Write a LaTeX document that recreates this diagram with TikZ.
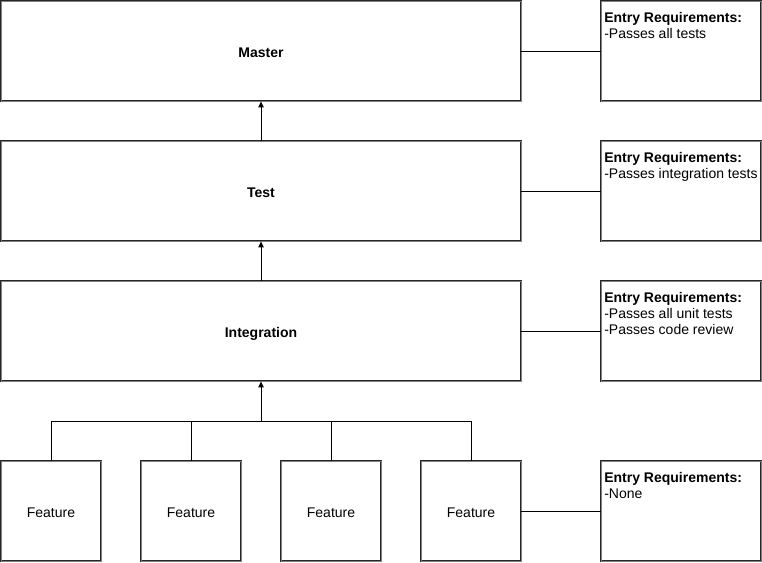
\documentclass[tikz,border=0pt]{standalone}
\usepackage{fontspec}
\setmainfont{Liberation Sans}
\usetikzlibrary{arrows.meta}
\begin{document}
\begin{tikzpicture}[x=0.75pt,y=-0.75pt,
  box/.style={draw=black!85,double=black!50,double distance=0.7pt,line width=0.55pt,fill=white,inner sep=0,text height=10pt,text depth=0pt,font=\fontsize{10.5pt}{12pt}\selectfont},
  lvl/.style={box,minimum width=390pt,minimum height=75pt,font=\fontsize{10.5pt}{12pt}\selectfont\bfseries},
  feat/.style={box,minimum width=75pt,minimum height=75pt},
  req/.style={box,minimum width=120pt,minimum height=75pt},
  txt/.style={anchor=base west,inner sep=0,font=\fontsize{10.5pt}{12pt}\selectfont},
  conn/.style={draw=black,line width=0.75pt},
  arr/.style={conn,-{Triangle[length=4.5pt,width=4pt]}}]
\useasboundingbox (0,0) rectangle (762,562);
\node[lvl] (master) at (261,51) {Master};
\node[lvl] (test) at (261,191) {Test};
\node[lvl] (integ) at (261,331) {Integration};
\node[feat] (f1) at (51,511) {Feature};
\node[feat] (f2) at (191,511) {Feature};
\node[feat] (f3) at (331,511) {Feature};
\node[feat] (f4) at (471,511) {Feature};
\node[req] (r1) at (681,51) {};
\node[req] (r2) at (681,191) {};
\node[req] (r3) at (681,331) {};
\node[req] (r4) at (681,511) {};
\node[txt] (r1a) at (604,22.5) {\bfseries Entry Requirements:};
\node[txt] (r1b) at (604,38.5) {-Passes all tests};
\node[txt] (r2a) at (604,162.5) {\bfseries Entry Requirements:};
\node[txt] (r2b) at (604,178.5) {-Passes integration tests};
\node[txt] (r3a) at (604,302.5) {\bfseries Entry Requirements:};
\node[txt] (r3b) at (604,318.5) {-Passes all unit tests};
\node[txt] (r3c) at (604,334.5) {-Passes code review};
\node[txt] (r4a) at (604,482.5) {\bfseries Entry Requirements:};
\node[txt] (r4b) at (604,498.5) {-None};
\draw[conn] (master.east) -- (r1.west);
\draw[conn] (test.east) -- (r2.west);
\draw[conn] (integ.east) -- (r3.west);
\draw[conn] (f4.east) -- (r4.west);
\draw[arr] (test.north) -- (master.south);
\draw[arr] (integ.north) -- (test.south);
\coordinate (j) at (261,421);
\draw[conn] (f1.north) |- (j);
\draw[conn] (f2.north) |- (j);
\draw[conn] (f3.north) |- (j);
\draw[conn] (f4.north) |- (j);
\draw[arr] (j) -- (integ.south);
\end{tikzpicture}
\end{document}
